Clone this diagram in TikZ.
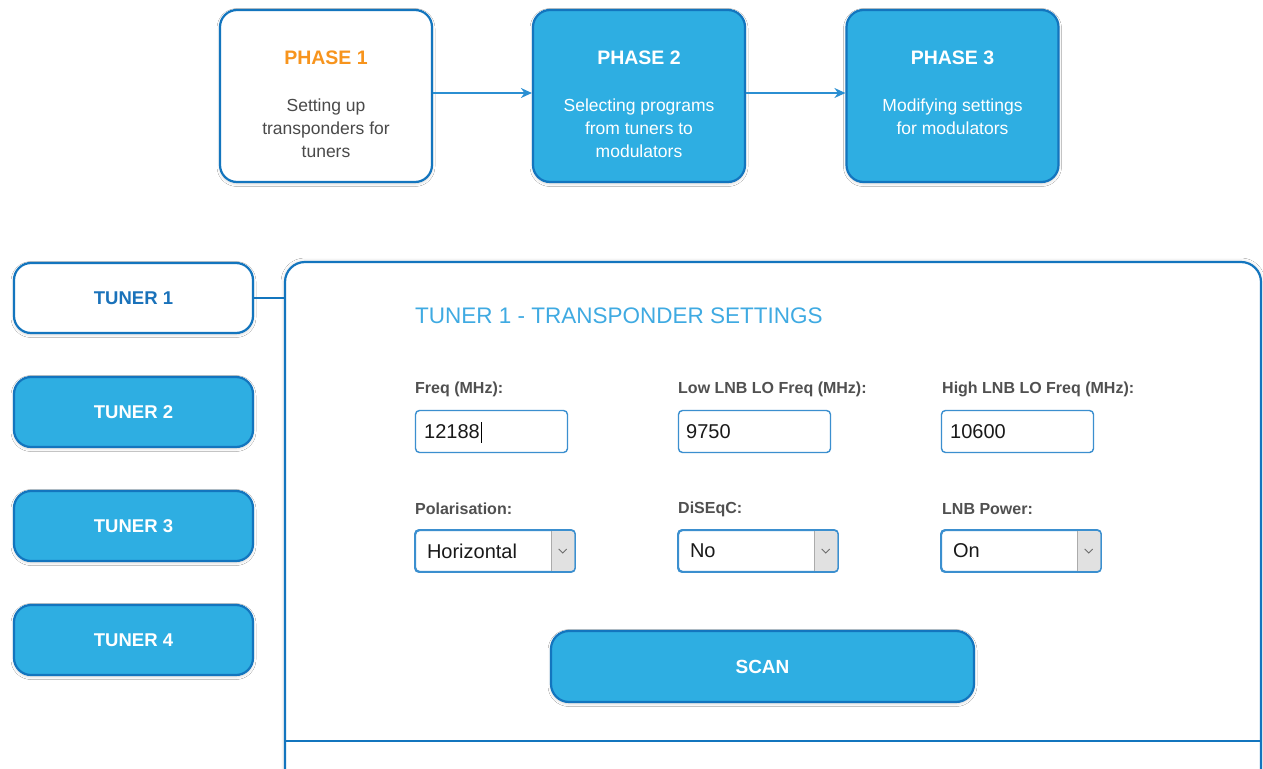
\documentclass[tikz,border=0pt]{standalone}
\usepackage{fontspec}
\setmainfont{Liberation Sans}
\usetikzlibrary{arrows.meta,shadows.blur}
\definecolor{cfill}{HTML}{2EAEE2}
\definecolor{cborder}{HTML}{1375BE}
\definecolor{carrow}{HTML}{2B8FD2}
\definecolor{corange}{HTML}{F7941D}
\definecolor{cgrey}{HTML}{4A4A4A}
\definecolor{clabel}{HTML}{505050}
\definecolor{ctitle}{HTML}{3FAAE2}
\definecolor{cinput}{HTML}{3B8FCF}
\definecolor{cbtn}{HTML}{E1E1E1}
\definecolor{cbtnline}{HTML}{ABABAB}
\definecolor{ctunertext}{HTML}{1A72BA}
\begin{document}
\begin{tikzpicture}[x=1pt,y=-1pt,
  shad/.style={blur shadow={shadow xshift=0pt, shadow yshift=-1.5pt, shadow blur radius=3pt, shadow opacity=20}},
  phasebox/.style={draw=cborder, line width=2.2pt, rounded corners=17pt, minimum width=212pt, minimum height=172pt, inner sep=0pt, shad},
  whitebox/.style={fill=white},
  bluebox/.style={fill=cfill},
  phasetitle/.style={font=\fontsize{19.5}{23}\selectfont\bfseries, inner sep=0pt},
  phasebody/.style={font=\fontsize{17.5}{23}\selectfont, align=center, inner sep=0pt},
  flow/.style={draw=carrow, line width=1.5pt, -{Stealth[length=11pt,width=10pt]}},
  tunerbox/.style={draw=cborder, line width=2.2pt, rounded corners=17pt, minimum width=239pt, minimum height=70pt, inner sep=0pt, font=\fontsize{18.5}{22}\selectfont\bfseries, shad},
  panelline/.style={draw=cborder, line width=2.2pt},
  fieldlabel/.style={font=\fontsize{16}{19}\selectfont\bfseries, text=clabel, anchor=west, inner sep=0pt},
  inputbox/.style={draw=cinput, line width=1.4pt, rounded corners=4pt, minimum width=152pt, minimum height=42pt, inner sep=0pt, fill=white},
  selectbox/.style={draw=cinput, line width=1.4pt, rounded corners=4pt, minimum width=159pt, minimum height=41pt, inner sep=0pt, fill=white},
  inputtext/.style={font=\fontsize{20}{24}\selectfont, text=black!90, anchor=west, inner sep=0pt},
  scanbox/.style={draw=cborder, line width=2.2pt, rounded corners=18pt, minimum width=423pt, minimum height=71pt, inner sep=0pt, fill=cfill, font=\fontsize{19}{23}\selectfont\bfseries, text=white, shad}
]
\useasboundingbox (0,0) rectangle (1263,768);
\fill[white] (0,0) rectangle (1263,768);

% ---------- phases ----------
\node[phasebox, whitebox] (p1) at (326,96) {};
\node[phasebox, bluebox]  (p2) at (639,96) {};
\node[phasebox, bluebox]  (p3) at (952.5,96) {};

\node[phasetitle, text=corange] (p1t) at (326,58) {PHASE 1};
\node[phasebody, text=cgrey]    (p1b) at (326,128) {Setting up\\transponders for\\tuners};
\node[phasetitle, text=white]   (p2t) at (639,58) {PHASE 2};
\node[phasebody, text=white]    (p2b) at (639,128) {Selecting programs\\from tuners to\\modulators};
\node[phasetitle, text=white]   (p3t) at (952.5,58) {PHASE 3};
\node[phasebody, text=white]    (p3b) at (952.5,116.5) {Modifying settings\\for modulators};

\draw[flow] ([yshift=3pt]p1.east) -- ([yshift=3pt]p2.west);
\draw[flow] ([yshift=3pt]p2.east) -- ([yshift=3pt]p3.west);

% ---------- panel ----------
\fill[white, blur shadow={shadow xshift=0pt, shadow yshift=0pt, shadow blur radius=4pt, shadow opacity=20}, rounded corners=20pt] (285,800) -- (285,262) -- (1261,262) -- (1261,800) -- cycle;
\draw[panelline, rounded corners=20pt] (285,800) -- (285,262) -- (1261,262) -- (1261,800);
\draw[panelline] (285,741) -- (1261,741);
\coordinate (pl) at (285,298);

% ---------- tuners ----------
\node[tunerbox, fill=white, text=ctunertext] (t1) at (133.5,298) {TUNER 1};
\node[tunerbox, fill=cfill, text=white] (t2) at (133.5,412) {TUNER 2};
\node[tunerbox, fill=cfill, text=white] (t3) at (133.5,526) {TUNER 3};
\node[tunerbox, fill=cfill, text=white] (t4) at (133.5,640) {TUNER 4};
\draw[panelline] (t1.east) -- (pl);

% ---------- panel content ----------
\node[font=\fontsize{22.5}{26}\selectfont, text=ctitle, anchor=west, inner sep=0pt] (ptitle) at (415,316) {TUNER 1 - TRANSPONDER SETTINGS};

\node[fieldlabel] (l1) at (415,389) {Freq (MHz):};
\node[fieldlabel] (l2) at (678,389) {Low LNB LO Freq (MHz):};
\node[fieldlabel] (l3) at (942,389) {High LNB LO Freq (MHz):};

\node[inputbox] (i1) at (491.5,431.5) {};
\node[inputbox] (i2) at (754.5,431.5) {};
\node[inputbox] (i3) at (1017.5,431.5) {};
\node[inputtext] (i1t) at (424,432) {12188};
\node[inputtext] (i2t) at (686,432) {9750};
\node[inputtext] (i3t) at (950,432) {10600};
\draw[black, line width=0.9pt] ([xshift=1pt]i1t.east |- 0,422) -- ([xshift=1pt]i1t.east |- 0,443);

\node[fieldlabel] (l4) at (415,509) {Polarisation:};
\node[fieldlabel] (l5) at (678,509) {DiSEqC:};
\node[fieldlabel] (l6) at (942,509) {LNB Power:};

\foreach \n/\cx/\txt in {s1/495/Horizontal, s2/758/No, s3/1021/On}{
  \node[selectbox] (\n) at (\cx,551) {};
  \fill[cbtn, rounded corners=3pt] ([xshift=-24pt,yshift=-19.8pt]\n.east) rectangle ([xshift=-0.7pt,yshift=19.8pt]\n.east);
  \fill[cbtn] ([xshift=-24pt,yshift=-19.8pt]\n.east) rectangle ([xshift=-12pt,yshift=19.8pt]\n.east);
  \draw[cbtnline, line width=0.9pt] ([xshift=-24pt,yshift=-19.8pt]\n.east) -- ([xshift=-24pt,yshift=19.8pt]\n.east);
  \draw[cinput, line width=1.4pt, rounded corners=4pt] (\n.south west) rectangle (\n.north east);
  \draw[gray!85!black, line width=0.8pt] ([xshift=-16.5pt,yshift=2pt]\n.east) -- ([xshift=-12.5pt,yshift=-2pt]\n.east) -- ([xshift=-8.5pt,yshift=2pt]\n.east);
  \node[inputtext] (\n t) at ([xshift=12pt]\n.west) {\txt};
}

\node[scanbox] (scan) at (762.5,666.5) {SCAN};
\end{tikzpicture}
\end{document}
